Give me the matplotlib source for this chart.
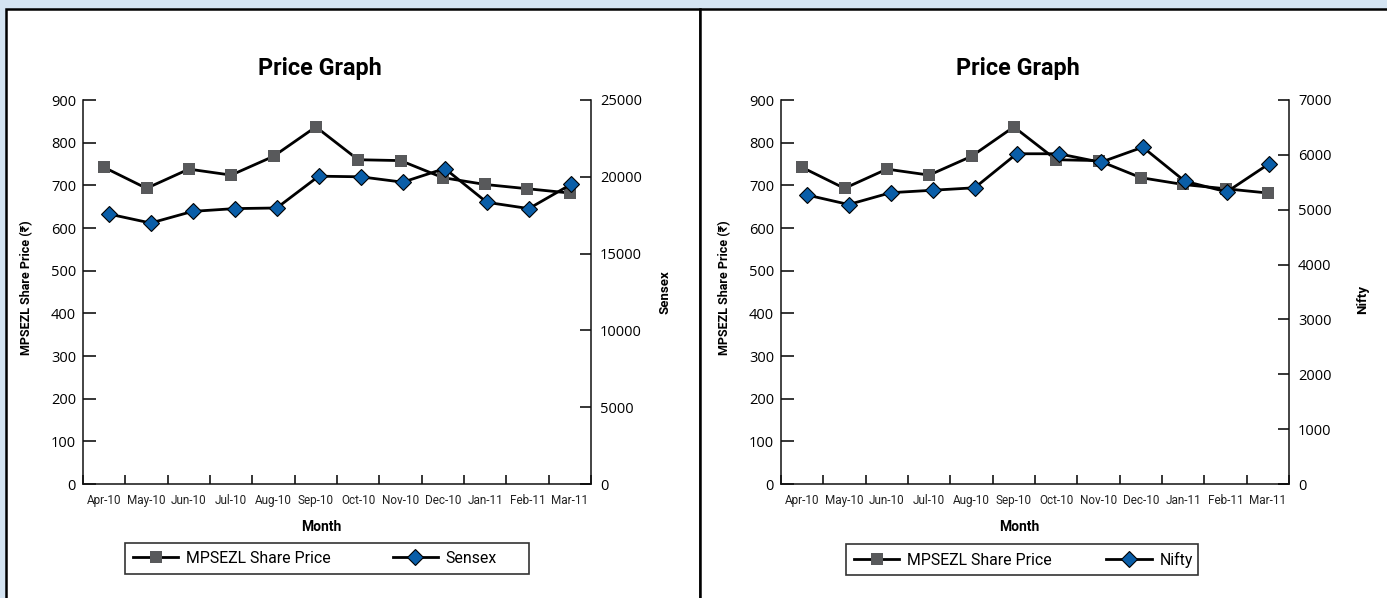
import numpy as np
import matplotlib
matplotlib.use('Agg')
from matplotlib import pyplot as plt
from matplotlib.patches import Rectangle
from matplotlib.lines import Line2D

months = ['Apr-10', 'May-10', 'Jun-10', 'Jul-10', 'Aug-10', 'Sep-10',
          'Oct-10', 'Nov-10', 'Dec-10', 'Jan-11', 'Feb-11', 'Mar-11']
share_price = [742, 693, 738, 724, 768, 837, 760, 758, 718, 702, 692, 682]
sensex = [17580, 16990, 17750, 17930, 17970, 20040, 20000, 19650, 20540, 18340, 17930, 19500]
nifty = [5270, 5095, 5310, 5355, 5400, 6020, 6020, 5865, 6140, 5520, 5325, 5835]

W, H = 1387, 598
narrow = ['Roboto', 'DejaVu Sans']
numfont = ['Open Sans', 'DejaVu Sans']
grey = '#58595b'
blue = '#0a5ea8'

fig = plt.figure(figsize=(W/100, H/100), dpi=100, facecolor='#d4e4f2')

def fx(p):
    return p/W

def fy(p):
    return 1 - p/H

# white panels with black frame
for x0, x1 in [(6, 700), (700, 1400)]:
    fig.add_artist(Rectangle((fx(x0), fy(650)), fx(x1)-fx(x0), fy(9)-fy(650),
                             transform=fig.transFigure, facecolor='white',
                             edgecolor='black', lw=1.8, zorder=-5))


def panel(left, sec_vals, sec_name, sec_max, sec_step, cx, sec_x, sec_y, ylab_x,
          box, colsp):
    rect = [fx(left), fy(484), fx(508), 384/H]
    ax = fig.add_axes(rect)
    ax2 = fig.add_axes(rect, facecolor='none')

    ax.plot(range(12), share_price, color='black', lw=2, marker='s', ms=8.6,
            mfc=grey, mec=grey, mew=0, zorder=3)
    ax2.plot(range(12), sec_vals, color='black', lw=2, marker='D', ms=7.9,
             mfc=blue, mec='black', mew=0.8, zorder=3)

    ax.set_xlim(-0.5, 11.5)
    ax2.set_xlim(-0.61, 11.48)
    ax.set_ylim(0, 900)
    ax2.set_ylim(0, sec_max)
    ax.set_yticks(np.arange(0, 901, 100))
    ax2.set_yticks(np.arange(0, sec_max + 1, sec_step))

    ax.set_xticks(range(12))
    ax.set_xticklabels(months, family=narrow, fontsize=8.5, color='#222222')
    ax.set_xticks(np.arange(-0.5, 12, 1), minor=True)
    ax.tick_params(axis='x', which='major', length=0, pad=7)
    ax.tick_params(axis='x', which='minor', direction='in', length=6.5, width=1.1)
    ax.tick_params(axis='y', direction='in', length=9, width=1.1, pad=5)
    for t in ax.get_yticklabels():
        t.set_family(numfont)
        t.set_fontsize(10.5)

    ax2.xaxis.set_visible(False)
    ax2.yaxis.tick_right()
    ax2.tick_params(axis='y', direction='in', length=8, width=1.1, pad=6.5)
    for t in ax2.get_yticklabels():
        t.set_family(numfont)
        t.set_fontsize(10.5)

    for s in ['top', 'right']:
        ax.spines[s].set_visible(False)
    for s in ['top', 'left', 'bottom']:
        ax2.spines[s].set_visible(False)
    for a in (ax, ax2):
        for s in a.spines.values():
            s.set_linewidth(1.1)
            s.set_color('#111111')

    fig.text(fx(cx), fy(68), 'Price Graph', ha='center', va='center',
             family=narrow, fontweight='bold', fontsize=16.8)
    fig.text(fx(cx + 1), fy(527), 'Month', ha='center', va='center',
             family=narrow, fontweight='bold', fontsize=10)
    fig.text(fx(ylab_x), fy(288), 'MPSEZL Share Price (₹)', ha='center', va='center',
             rotation=90, family=narrow, fontweight='bold', fontsize=9)
    fig.text(fx(sec_x), fy(sec_y), sec_name, ha='center', va='center',
             rotation=90, family=narrow, fontweight='bold', fontsize=9.5)

    bx0, bx1, by0, by1 = box
    fig.add_artist(Rectangle((fx(bx0), fy(by1)), fx(bx1)-fx(bx0), fy(by0)-fy(by1),
                             transform=fig.transFigure, facecolor='white',
                             edgecolor='#333333', lw=1.2, zorder=1))
    h1 = Line2D([], [], color='black', lw=2, marker='s', ms=8.6, mfc=grey, mec=grey, mew=0)
    h2 = Line2D([], [], color='black', lw=2, marker='D', ms=7.9, mfc=blue, mec='black', mew=0.8)
    leg = fig.legend([h1, h2], ['MPSEZL Share Price', sec_name], loc='center left',
                     bbox_to_anchor=(fx(bx0 + 8), fy((by0 + by1)/2)), ncol=2,
                     frameon=False, handlelength=2.85, handletextpad=0.5,
                     columnspacing=colsp, borderpad=0, borderaxespad=0, numpoints=1,
                     prop={'family': narrow, 'size': 11.4})
    leg.set_zorder(2)
    return ax, ax2


panel(83, sensex, 'Sensex', 25000, 5000, 320, 665, 292, 27, (125, 529, 543, 574), 3.9)
panel(781, nifty, 'Nifty', 7000, 1000, 1018, 1363, 299, 725, (846, 1198, 544, 575), 3.45)

plt.savefig('out.png', dpi=100, facecolor=fig.get_facecolor())
